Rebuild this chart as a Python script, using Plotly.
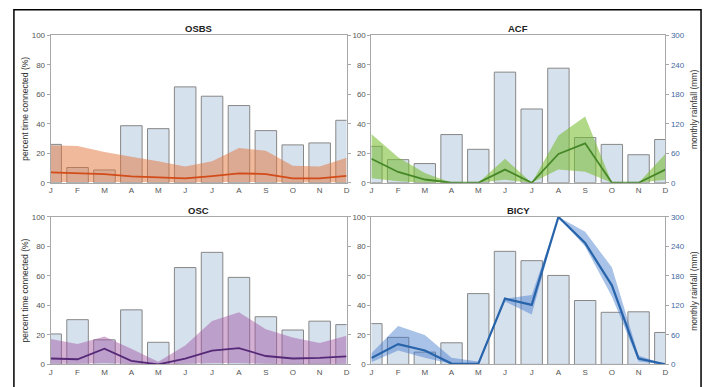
import plotly.graph_objects as go

months = list(range(1, 13))
month_labels = ["J", "F", "M", "A", "M", "J", "J", "A", "S", "O", "N", "D"]
panel_titles = ["OSBS", "ACF", "OSC", "BICY"]

# monthly rainfall (mm)
osbs_rain = [78, 31, 26, 116, 110, 195, 176, 157, 106, 77, 81, 127]
acf_rain = [74, 47, 39, 98, 68, 225, 150, 233, 92, 78, 57, 88]
osc_rain = [62, 91, 50, 111, 45, 197, 228, 177, 97, 70, 88, 81]
bicy_rain = [83, 55, 25, 44, 144, 230, 211, 181, 130, 106, 107, 65]

# percent time connected: median line, lower and upper band
osbs_pct = [7.0, 6.5, 5.8, 4.3, 3.8, 2.9, 4.5, 6.4, 5.9, 3.0, 3.0, 4.7]
osbs_lo = [0.5, 0.5, 0.5, 0.3, 0.3, 0.2, 0.3, 0.5, 0.5, 0.2, 0.2, 0.3]
osbs_hi = [25.5, 25.0, 20.8, 17.6, 14.5, 11.0, 14.5, 23.5, 21.7, 11.5, 11.0, 17.0]

acf_pct = [16.3, 7.3, 2.2, 0.0, 0.0, 8.9, 0.0, 19.5, 26.7, 0.0, 0.0, 8.9]
acf_lo = [3.0, 1.0, 0.0, 0.0, 0.0, 2.0, 0.0, 9.0, 7.5, 0.0, 0.0, 2.0]
acf_hi = [33.0, 17.3, 6.6, 0.0, 0.0, 16.2, 0.0, 32.0, 45.0, 0.0, 0.0, 19.5]

osc_pct = [4.0, 3.5, 10.6, 2.4, 0.0, 4.0, 9.3, 11.0, 5.7, 4.0, 4.4, 5.5]
osc_lo = [0.5, 0.5, 1.0, 0.2, 0.0, 0.5, 1.0, 1.0, 0.5, 0.3, 0.3, 0.5]
osc_hi = [17.2, 13.9, 19.0, 10.6, 1.8, 12.8, 29.4, 35.3, 23.8, 18.3, 14.6, 19.4]

bicy_pct = [4.3, 13.8, 9.4, 0.6, 0.4, 44.6, 40.4, 100.0, 82.3, 53.6, 4.0, 0.0]
bicy_lo = [1.5, 9.5, 4.5, 0.2, 0.0, 42.6, 33.8, 100.0, 80.0, 46.0, 2.0, 0.0]
bicy_hi = [7.5, 26.0, 20.0, 4.5, 2.0, 44.6, 47.0, 100.0, 90.0, 65.8, 6.0, 0.0]

rains = [osbs_rain, acf_rain, osc_rain, bicy_rain]
pcts = [osbs_pct, acf_pct, osc_pct, bicy_pct]
los = [osbs_lo, acf_lo, osc_lo, bicy_lo]
his = [osbs_hi, acf_hi, osc_hi, bicy_hi]

band_colors = ["rgba(225,115,55,0.5)", "rgba(120,190,50,0.58)",
               "rgba(160,80,160,0.45)", "rgba(65,120,205,0.45)"]
line_colors = ["rgb(210,75,25)", "rgb(70,135,40)", "rgb(85,40,120)", "rgb(40,100,170)"]

W, H = 711, 387
# plot areas in pixels: (left, right, top, bottom)
boxes = [(49, 347, 32, 183), (372, 668, 32, 183), (49, 347, 218, 369), (372, 668, 218, 369)]

fig = go.Figure()
FONT = "Liberation Sans, Arial, sans-serif"
tick_font = dict(family=FONT, size=8, color="#555555")
axis_col = "#a8a8a8"
right_col = "rgb(70,105,160)"

for i in range(4):
    xa = f"x{i+1}" if i else "x"
    yr = f"y{2*i+1}" if i else "y"
    yp = f"y{2*i+2}"
    left, right, top, bottom = boxes[i]
    xdom = [left / W, right / W]
    ydom = [1 - bottom / H, 1 - top / H]
    xkey = "xaxis" + (str(i + 1) if i else "")
    yrkey = "yaxis" + (str(2 * i + 1) if i else "")
    ypkey = "yaxis" + str(2 * i + 2)
    is_right = i in (1, 3)

    fig.add_trace(go.Bar(x=months, y=rains[i], width=0.8,
                         marker=dict(color="rgb(214,225,238)",
                                     line=dict(color="rgb(135,135,135)", width=1)),
                         xaxis=xa, yaxis=yr, showlegend=False))
    fig.add_trace(go.Scatter(x=months + months[::-1], y=his[i] + los[i][::-1],
                             fill="toself", fillcolor=band_colors[i], mode="none",
                             xaxis=xa, yaxis=yp, showlegend=False, hoverinfo="skip"))
    fig.add_trace(go.Scatter(x=months, y=pcts[i], mode="lines",
                             line=dict(color=line_colors[i], width=1.8 if i < 3 else 2.2),
                             xaxis=xa, yaxis=yp, showlegend=False))

    fig.layout[xkey] = dict(domain=xdom, range=[1, 12], anchor=yr,
                            tickvals=months, ticktext=month_labels,
                            tickfont=tick_font, ticks="", showline=True,
                            linecolor=axis_col, linewidth=1, mirror=True,
                            showgrid=False, zeroline=False)
    fig.layout[yrkey] = dict(domain=ydom, range=[0, 300], anchor=xa, side="right",
                             tickvals=[0, 60, 120, 180, 240, 300],
                             showticklabels=is_right,
                             tickfont=dict(family=FONT, size=8, color=right_col),
                             ticks="outside", ticklen=3, tickcolor=axis_col,
                             showline=True, linecolor=axis_col, linewidth=1,
                             showgrid=False, zeroline=False)
    fig.layout[ypkey] = dict(range=[0, 100], anchor=xa, overlaying=yr, side="left",
                             tickvals=[0, 20, 40, 60, 80, 100],
                             tickfont=tick_font, ticks="outside", ticklen=3,
                             tickcolor=axis_col, showline=True, linecolor=axis_col,
                             linewidth=1, showgrid=False, zeroline=False)

    fig.add_annotation(x=(left + right) / 2 / W, y=1 - (top - 7) / H, xref="paper",
                       yref="paper", text=f"<b>{panel_titles[i]}</b>", showarrow=False,
                       font=dict(family=FONT, size=9.5, color="#222222"),
                       xanchor="center", yanchor="middle")
    if is_right:
        fig.add_annotation(x=697 / W, y=1 - (top + bottom) / 2 / H, xref="paper",
                           yref="paper", text="monthly rainfall (mm)", textangle=-90,
                           showarrow=False, font=dict(family=FONT, size=8.5, color="#333333"),
                           xanchor="center", yanchor="middle")
    else:
        fig.add_annotation(x=23 / W, y=1 - (top + bottom) / 2 / H, xref="paper",
                           yref="paper", text="percent time connected (%)", textangle=-90,
                           showarrow=False, font=dict(family=FONT, size=8.5, color="#333333"),
                           xanchor="center", yanchor="middle")

fig.add_shape(type="rect", xref="paper", yref="paper", x0=12 / W, x1=704 / W,
              y0=-0.05, y1=1 - 6 / H, line=dict(color="black", width=1.5))

fig.update_layout(width=W, height=H, margin=dict(l=0, r=0, t=0, b=0),
                  paper_bgcolor="white", plot_bgcolor="white", barmode="overlay",
                  font=dict(family=FONT))
fig.write_html("out.html")
